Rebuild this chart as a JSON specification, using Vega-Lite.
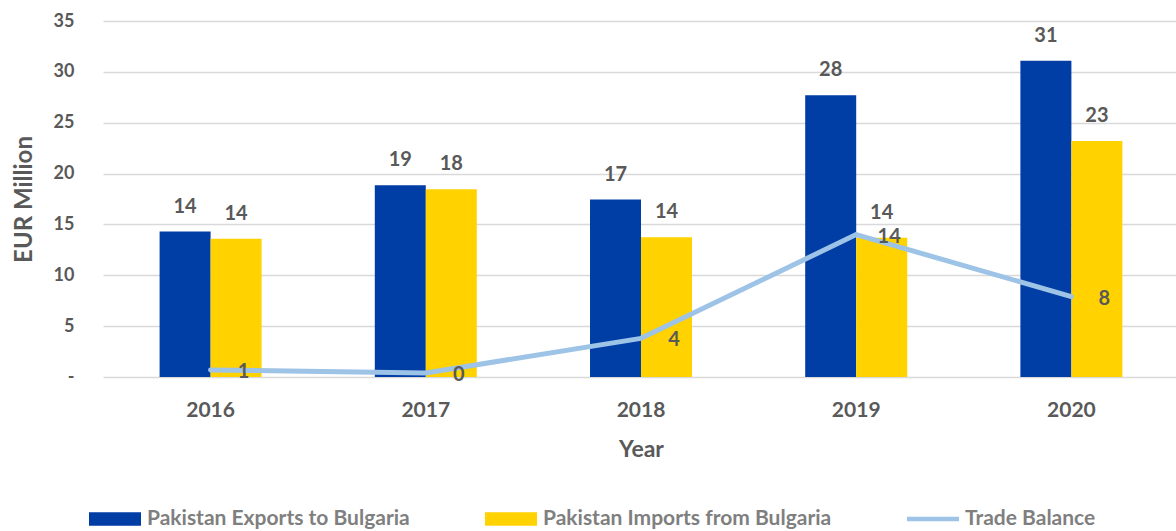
{
  "$schema": "https://vega.github.io/schema/vega-lite/v6.json",
  "width": 1076,
  "height": 356,
  "padding": {"left": 12, "top": 12, "right": 0, "bottom": 0},
  "background": "white",
  "config": {
    "font": "Lato",
    "view": {"stroke": null},
    "axis": {"labelFont": "Lato", "titleFont": "Lato", "labelColor": "#595959", "titleColor": "#595959", "labelFontWeight": "bold", "titleFontWeight": "bold"}
  },
  "data": {
    "values": [
      {"Year": "2016", "Series": "Pakistan Exports to Bulgaria", "Value": 14.3},
      {"Year": "2016", "Series": "Pakistan Imports from Bulgaria", "Value": 13.6},
      {"Year": "2016", "Series": "Trade Balance", "Value": 0.7},
      {"Year": "2017", "Series": "Pakistan Exports to Bulgaria", "Value": 18.85},
      {"Year": "2017", "Series": "Pakistan Imports from Bulgaria", "Value": 18.45},
      {"Year": "2017", "Series": "Trade Balance", "Value": 0.4},
      {"Year": "2018", "Series": "Pakistan Exports to Bulgaria", "Value": 17.45},
      {"Year": "2018", "Series": "Pakistan Imports from Bulgaria", "Value": 13.75},
      {"Year": "2018", "Series": "Trade Balance", "Value": 3.8},
      {"Year": "2019", "Series": "Pakistan Exports to Bulgaria", "Value": 27.7},
      {"Year": "2019", "Series": "Pakistan Imports from Bulgaria", "Value": 13.7},
      {"Year": "2019", "Series": "Trade Balance", "Value": 14.0},
      {"Year": "2020", "Series": "Pakistan Exports to Bulgaria", "Value": 31.1},
      {"Year": "2020", "Series": "Pakistan Imports from Bulgaria", "Value": 23.2},
      {"Year": "2020", "Series": "Trade Balance", "Value": 7.9}
    ]
  },
  "encoding": {
    "x": {
      "field": "Year", "type": "nominal",
      "scale": {"paddingInner": 0.526, "paddingOuter": 0.263},
      "axis": {"title": "Year", "labelAngle": 0, "labelFontSize": 21, "titleFontSize": 23, "labelPadding": 22, "titlePadding": 18, "ticks": false, "tickSize": 0, "domain": false, "grid": false}
    }
  },
  "layer": [
    {
      "transform": [{"filter": "datum.Series !== 'Trade Balance'"}],
      "mark": {"type": "bar"},
      "encoding": {
        "xOffset": {"field": "Series", "type": "nominal", "sort": ["Pakistan Exports to Bulgaria", "Pakistan Imports from Bulgaria"], "scale": {"paddingInner": 0, "paddingOuter": 0}},
        "y": {
          "field": "Value", "type": "quantitative",
          "scale": {"domain": [0, 35], "nice": false},
          "axis": {"title": "EUR Million", "values": [0, 5, 10, 15, 20, 25, 30, 35], "labelExpr": "datum.value == 0 ? '-\u00a0\u00a0' : datum.label", "labelFontSize": 18, "titleFontSize": 24, "labelPadding": 29, "titlePadding": 17, "ticks": false, "tickSize": 0, "domain": false, "grid": true, "gridColor": "#d9d9d9", "gridWidth": 1.5}
        },
        "color": {
          "field": "Series", "type": "nominal",
          "scale": {"domain": ["Pakistan Exports to Bulgaria", "Pakistan Imports from Bulgaria", "Trade Balance"], "range": ["#003DA5", "#FFD200", "#9DC3E6"]},
          "legend": {
            "title": null, "orient": "none", "legendX": -14, "legendY": 472, "direction": "horizontal",
            "labelFont": "Lato", "labelFontSize": 21, "labelFontWeight": "bold", "labelColor": "#7f7f7f", "labelLimit": 0,
            "symbolSize": 2704, "symbolStrokeWidth": 0, "labelOffset": 6, "columnPadding": 75,
            "encode": {"symbols": {"update": {"shape": {"signal": "datum.value === 'Trade Balance' ? 'M-1,-0.09h2v0.18h-2z' : 'M-1,-0.26h2v0.52h-2z'"}, "strokeWidth": {"value": 0}}}}
          }
        }
      }
    },
    {
      "transform": [{"filter": "datum.Series === 'Trade Balance'"}],
      "mark": {"type": "line", "color": "#9DC3E6", "strokeWidth": 5, "strokeCap": "round", "strokeJoin": "round"},
      "encoding": {"y": {"field": "Value", "type": "quantitative"}}
    },
    {
      "transform": [{"filter": "datum.Series !== 'Trade Balance'"}],
      "mark": {"type": "text", "baseline": "middle", "dy": -25, "fontSize": 20, "fontWeight": "bold", "color": "#595959", "font": "Lato"},
      "encoding": {
        "xOffset": {"field": "Series", "type": "nominal", "sort": ["Pakistan Exports to Bulgaria", "Pakistan Imports from Bulgaria"]},
        "y": {"field": "Value", "type": "quantitative"},
        "text": {"field": "Value", "type": "quantitative", "format": ".0f"}
      }
    },
    {
      "transform": [{"filter": "datum.Series === 'Trade Balance'"}],
      "mark": {"type": "text", "baseline": "middle", "dx": 33, "dy": 2, "fontSize": 20, "fontWeight": "bold", "color": "#595959", "font": "Lato"},
      "encoding": {
        "y": {"field": "Value", "type": "quantitative"},
        "text": {"field": "Value", "type": "quantitative", "format": ".0f"}
      }
    }
  ]
}
